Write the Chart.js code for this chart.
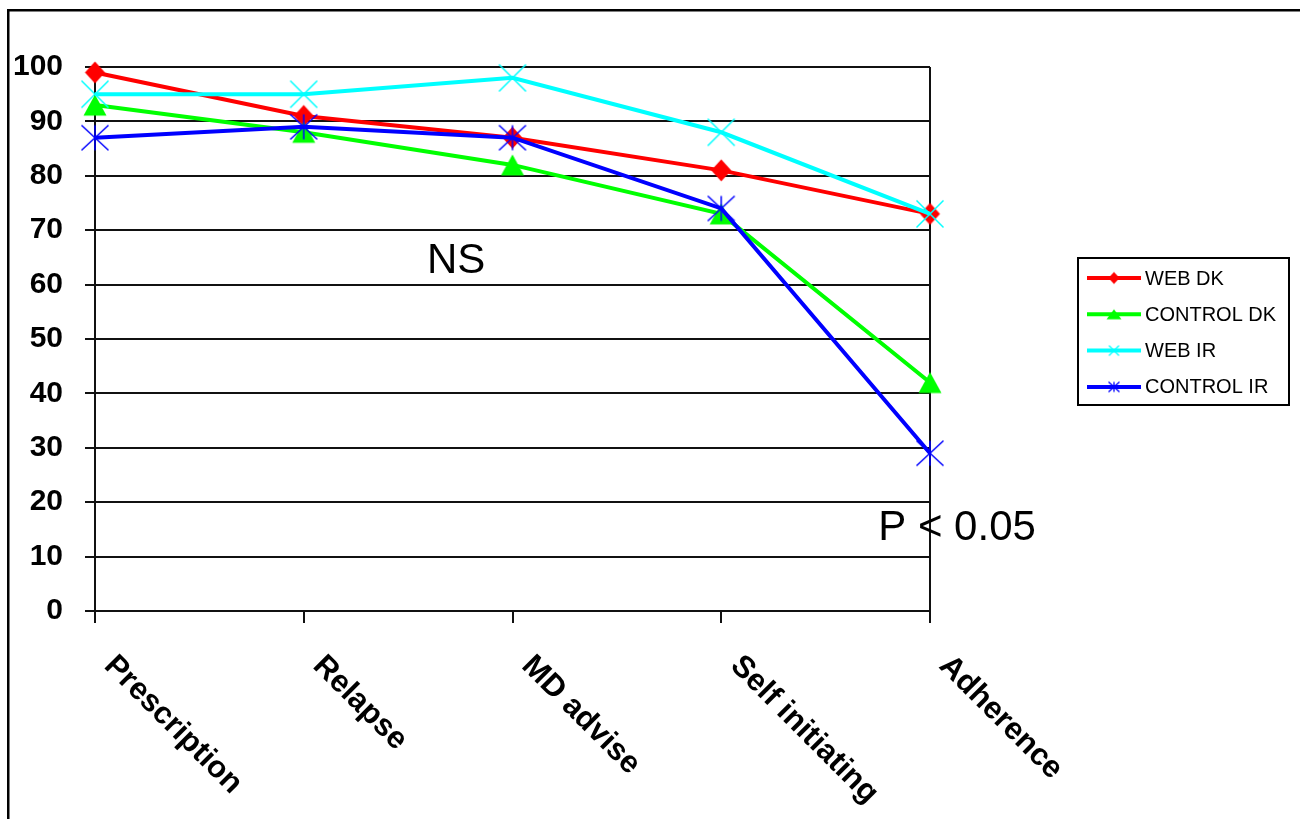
<!DOCTYPE html>
<html><head><meta charset="utf-8">
<script src="https://cdn.jsdelivr.net/npm/chart.js@4.4.0/dist/chart.umd.min.js"></script>
<style>html,body{margin:0;padding:0;background:#fff;overflow:hidden}canvas{display:block}</style>
</head><body>
<canvas id="c" width="1300" height="819"></canvas>
<script>
// ---- data ----
const categories = ['Prescription', 'Relapse', 'MD advise', 'Self initiating', 'Adherence'];
const webDK = [99, 91, 87, 81, 73];
const controlDK = [93, 88, 82, 73, 42];
const webIR = [95, 95, 98, 88, 73];
const controlIR = [87, 89, 87, 74, 29];
const seriesNames = ['WEB DK', 'CONTROL DK', 'WEB IR', 'CONTROL IR'];
const yMin = 0, yMax = 100, yStep = 10;
const notes = [
  { text: 'NS', x: 1.59, y: 62.1 },
  { text: 'P < 0.05', x: 3.752, y: 13.05 }
];

// ---- styles ----
const FONT = '"Liberation Sans", Arial, sans-serif';
const colors = ['#FF0000', '#00FF00', '#00FFFF', '#0000FF'];
const kinds = ['diamond', 'triangle', 'x', 'star'];

function marker(kind, w, h, color, lw) {
  const c = document.createElement('canvas');
  c.width = Math.ceil(w) + 3; c.height = Math.ceil(h) + 3;
  const g = c.getContext('2d');
  const cx = c.width / 2, cy = c.height / 2, hw = w / 2, hh = h / 2;
  g.fillStyle = color; g.strokeStyle = color; g.lineWidth = lw || 1.5;
  g.beginPath();
  if (kind === 'diamond') {
    g.moveTo(cx, cy - hh); g.lineTo(cx + hw, cy); g.lineTo(cx, cy + hh); g.lineTo(cx - hw, cy); g.closePath(); g.fill();
  } else if (kind === 'triangle') {
    g.moveTo(cx, cy - hh); g.lineTo(cx + hw, cy + hh); g.lineTo(cx - hw, cy + hh); g.closePath(); g.fill();
  } else if (kind === 'x') {
    g.moveTo(cx - hw, cy - hh); g.lineTo(cx + hw, cy + hh); g.moveTo(cx + hw, cy - hh); g.lineTo(cx - hw, cy + hh); g.stroke();
  } else if (kind === 'star') {
    g.moveTo(cx - hw, cy - hh); g.lineTo(cx + hw, cy + hh); g.moveTo(cx + hw, cy - hh); g.lineTo(cx - hw, cy + hh);
    g.moveTo(cx, cy - hh); g.lineTo(cx, cy + hh); g.stroke();
  }
  return c;
}
const bigSizes = [[20, 22], [23, 21], [27, 27], [27, 25]];
const smallSizes = [[11, 12], [15, 10], [10, 10], [11, 10]];
const bigMarkers = kinds.map((k, i) => marker(k, bigSizes[i][0], bigSizes[i][1], colors[i], 1.5));
const smallMarkers = kinds.map((k, i) => marker(k, smallSizes[i][0], smallSizes[i][1], colors[i], 1.3));

const seriesData = [webDK, controlDK, webIR, controlIR];
const datasets = seriesData.map((d, i) => ({
  label: seriesNames[i],
  data: d,
  borderColor: colors[i],
  backgroundColor: colors[i],
  borderWidth: 4,
  tension: 0,
  pointStyle: bigMarkers[i],
  pointRadius: 10,
  order: seriesData.length - i,
  clip: false
}));

const extras = {
  id: 'extras',
  afterDraw(chart) {
    const ctx = chart.ctx;
    const xs = chart.scales.x, ys = chart.scales.y;
    ctx.save();
    // frame
    ctx.fillStyle = '#000';
    ctx.fillRect(7, 9, 1293, 2.5);
    ctx.fillRect(7, 9, 2.5, 810);
    // x labels rotated
    ctx.font = 'bold 31px ' + FONT;
    ctx.textAlign = 'left'; ctx.textBaseline = 'alphabetic';
    categories.forEach((c, i) => {
      const x = xs.getPixelForValue(i);
      ctx.save();
      ctx.translate(x + 8, ys.bottom + 56);
      ctx.rotate(Math.PI / 4);
      ctx.fillText(c, 0, 0);
      ctx.restore();
    });
    // notes
    ctx.font = '42px ' + FONT;
    notes.forEach(n => ctx.fillText(n.text, xs.getPixelForValue(n.x), ys.getPixelForValue(n.y)));
    // legend
    const lx = 1078, ly = 258, lw = 211, lh = 147;
    ctx.lineWidth = 2; ctx.strokeStyle = '#000';
    ctx.strokeRect(lx, ly, lw, lh);
    ctx.font = '20px ' + FONT; ctx.textBaseline = 'middle';
    seriesNames.forEach((name, i) => {
      const y = ly + 20 + i * 36.3;
      ctx.strokeStyle = colors[i]; ctx.lineWidth = 4;
      ctx.beginPath(); ctx.moveTo(lx + 9, y); ctx.lineTo(lx + 63, y); ctx.stroke();
      const m = smallMarkers[i];
      ctx.drawImage(m, lx + 36 - m.width / 2, y - m.height / 2);
      ctx.fillStyle = '#000';
      ctx.fillText(name, lx + 67, y + 1);
    });
    ctx.restore();
  }
};

new Chart(document.getElementById('c'), {
  type: 'line',
  data: { labels: categories, datasets },
  options: {
    responsive: false,
    animation: false,
    devicePixelRatio: 1,
    layout: { padding: { top: 67, right: 370, bottom: 0, left: 0 } },
    plugins: { legend: { display: false }, tooltip: { enabled: false } },
    scales: {
      x: {
        type: 'category',
        offset: false,
        afterFit: s => { s.height = 208; },
        ticks: { display: false },
        grid: {
          color: c => c.index === categories.length - 1 ? '#111' : 'rgba(0,0,0,0)',
          tickColor: '#111', lineWidth: 2, tickLength: 12, drawOnChartArea: true
        },
        border: { display: true, color: '#111', width: 2 }
      },
      y: {
        min: yMin, max: yMax,
        afterFit: s => { s.width = 95; },
        ticks: { stepSize: yStep, color: '#000', padding: 22, font: { family: FONT, size: 30, weight: 'bold' } },
        grid: { color: '#111', tickColor: '#111', lineWidth: 2, tickLength: 10 },
        border: { display: true, color: '#111', width: 2 }
      }
    }
  },
  plugins: [extras]
});
</script>
</body></html>
